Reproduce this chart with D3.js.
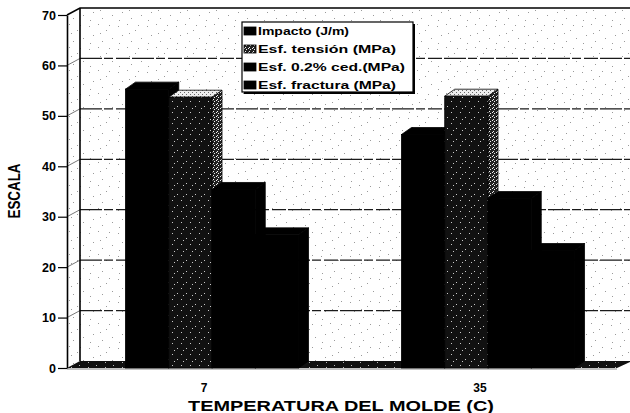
<!DOCTYPE html>
<html>
<head>
<meta charset="utf-8">
<script src="https://cdn.jsdelivr.net/npm/d3@7"></script>
<style>
  html, body { margin: 0; padding: 0; background: #fff; }
  svg { display: block; }
  text { font-family: "Liberation Sans", Arial, sans-serif; fill: #000; }
</style>
</head>
<body>
<svg id="chart" width="630" height="413"></svg>
<script>
// Data
const categories = ["7", "35"];
const seriesNames = ["Impacto (J/m)", "Esf. tensión (MPa)", "Esf. 0.2% ced.(MPa)", "Esf. fractura (MPa)"];
const impacto  = [55.3, 46.3];
const tension  = [53.7, 53.9];
const cedencia = [35.4, 33.6];
const fractura = [26.4, 23.3];
const yTicks = [0, 10, 20, 30, 40, 50, 60, 70];

const seriesValues = [impacto, tension, cedencia, fractura];
const seriesFill = ["solid", "speckle", "solid", "solid"];
// legend label widths
const legendTextWidth = [91, 138, 147, 138];

const svg = d3.select("#chart");

// 3D offsets: wall depth and bar depth
const wallDx = 13, wallDy = -7;
const barDx = 10, barDy = -7;

const y = d3.scaleLinear().domain([0, 70]).range([368, 15]);
const x0 = d3.scaleBand().domain(categories).range([74, 626])
  .paddingInner(0.373).paddingOuter(0.1865);
const x1 = d3.scaleBand().domain(seriesNames).range([0, x0.bandwidth()]);

const xLeft = 67;
const xRightFront = 617;
const xRightBack = 632;

// Patterns
const defs = svg.append("defs");

function dotPattern(id, w, h, bg, color, dots, size) {
  const p = defs.append("pattern").attr("id", id)
    .attr("patternUnits", "userSpaceOnUse").attr("width", w).attr("height", h);
  if (bg) p.append("rect").attr("width", w).attr("height", h).attr("fill", bg);
  dots.forEach(([dx, dy]) => p.append("rect")
    .attr("x", dx).attr("y", dy).attr("width", size).attr("height", size).attr("fill", color));
}
// faint grain on the walls
dotPattern("wallGrain", 29, 23, "#fff", "#9a9a9a",
  [[2,3],[11,1],[19,7],[25,15],[6,12],[15,18],[22,2],[3,20],[13,10]], 1);
// stippled fill of the tension bar
dotPattern("tensFront", 9, 11, "#111", "#c8c8c8",
  [[1,2],[6,7],[3,9]], 1);
dotPattern("tensSide", 4, 4, "#222", "#f2f2f2",
  [[0,0],[2,1],[1,3]], 1);
dotPattern("tensTop", 4, 4, "#eee", "#666",
  [[0,0],[2,2]], 1);
dotPattern("floorGrain", 17, 5, "#111", "#bbb", [[3,2],[11,0]], 1);

// Back wall
const wall = svg.append("g");
wall.append("rect")
  .attr("x", xLeft + wallDx).attr("y", y(70) + wallDy)
  .attr("width", 640 - (xLeft + wallDx)).attr("height", y(0) - y(70))
  .attr("fill", "url(#wallGrain)");
// Side wall
wall.append("polygon")
  .attr("points", [[xLeft, y(70)], [xLeft + wallDx, y(70) + wallDy],
                   [xLeft + wallDx, y(0) + wallDy], [xLeft, y(0)]].join(" "))
  .attr("fill", "url(#wallGrain)");

// Gridlines on back wall and side wall
const grid = svg.append("g");
yTicks.filter(v => v > 0 && v < 70).forEach(v => {
  grid.append("line")
    .attr("x1", xLeft + wallDx).attr("x2", 640)
    .attr("y1", y(v) + wallDy).attr("y2", y(v) + wallDy)
    .attr("stroke", "#1a1a1a").attr("stroke-width", 1.3)
    .attr("stroke-dasharray", "22,2,9,3,14,2");
  grid.append("line")
    .attr("x1", xLeft).attr("x2", xLeft + wallDx)
    .attr("y1", y(v)).attr("y2", y(v) + wallDy)
    .attr("stroke", "#555").attr("stroke-width", 0.8);
});
// top edge of the walls
grid.append("path")
  .attr("d", `M${xLeft},${y(70)} L${xLeft + wallDx},${y(70) + wallDy} L640,${y(70) + wallDy}`)
  .attr("fill", "none").attr("stroke", "#000").attr("stroke-width", 1.5);
// back corner of side wall
grid.append("line")
  .attr("x1", xLeft + wallDx).attr("x2", xLeft + wallDx)
  .attr("y1", y(70) + wallDy).attr("y2", y(0) + wallDy)
  .attr("stroke", "#000").attr("stroke-width", 1.6);

// Floor
svg.append("polygon")
  .attr("points", [[xLeft, y(0)], [xRightFront, y(0)],
                   [xRightBack, y(0) + wallDy], [xLeft + wallDx, y(0) + wallDy]].join(" "))
  .attr("fill", "url(#floorGrain)");
svg.append("line")
  .attr("x1", xLeft).attr("x2", xRightFront).attr("y1", y(0) + 1).attr("y2", y(0) + 1)
  .attr("stroke", "#888").attr("stroke-width", 1.2);

// Bars (drawn left to right so each front face covers its neighbour's side)
const bars = svg.append("g");
categories.forEach((cat, ci) => {
  seriesNames.forEach((name, si) => {
    const v = seriesValues[si][ci];
    const xa = x0(cat) + x1(name);
    const xb = xa + x1.bandwidth();
    const yt = y(v), yb = y(0);
    const speckle = seriesFill[si] === "speckle";
    const g = bars.append("g");
    // side face
    g.append("polygon")
      .attr("points", [[xb, yt], [xb + barDx, yt + barDy], [xb + barDx, yb + barDy], [xb, yb]].join(" "))
      .attr("fill", speckle ? "url(#tensSide)" : "#000")
      .attr("stroke", "#000").attr("stroke-width", 0.8);
    // top face
    g.append("polygon")
      .attr("points", [[xa, yt], [xa + barDx, yt + barDy], [xb + barDx, yt + barDy], [xb, yt]].join(" "))
      .attr("fill", speckle ? "url(#tensTop)" : "#000")
      .attr("stroke", "#000").attr("stroke-width", 0.8);
    // front face
    g.append("rect")
      .attr("x", xa).attr("y", yt).attr("width", xb - xa).attr("height", yb - yt)
      .attr("fill", speckle ? "url(#tensFront)" : "#000")
      .attr("stroke", "#000").attr("stroke-width", 0.8);
  });
});

// Y axis
const yAxis = svg.append("g")
  .attr("transform", `translate(${xLeft},0)`)
  .call(d3.axisLeft(y).tickValues(yTicks).tickSize(9).tickSizeOuter(0).tickPadding(2));
yAxis.select(".domain").attr("stroke", "#000").attr("stroke-width", 1.6);
yAxis.selectAll(".tick line").attr("stroke", "#000").attr("stroke-width", 1.2);
yAxis.selectAll(".tick text")
  .style("font-family", "'Liberation Sans', Arial, sans-serif")
  .style("font-weight", "bold").style("font-size", "12.5px").attr("fill", "#000");

// X axis category labels
const xAxis = svg.append("g")
  .attr("transform", `translate(-8,${y(0)})`)
  .call(d3.axisBottom(x0).tickSize(0).tickPadding(15));
xAxis.select(".domain").remove();
xAxis.selectAll(".tick text")
  .style("font-family", "'Liberation Sans', Arial, sans-serif")
  .style("font-weight", "bold").style("font-size", "12px").attr("fill", "#000");

// Axis titles
svg.append("text")
  .attr("x", 341).attr("y", 411)
  .attr("text-anchor", "middle")
  .attr("textLength", 306).attr("lengthAdjust", "spacingAndGlyphs")
  .style("font-weight", "bold").style("font-size", "15px")
  .text("TEMPERATURA DEL MOLDE (C)");

svg.append("text")
  .attr("transform", "translate(20,191) rotate(-90)")
  .attr("text-anchor", "middle")
  .attr("textLength", 55).attr("lengthAdjust", "spacingAndGlyphs")
  .style("font-family", "'Liberation Sans Narrow', 'Liberation Sans', Arial, sans-serif")
  .style("font-weight", "bold").style("font-size", "16px")
  .text("ESCALA");

// Legend
const legend = svg.append("g").attr("transform", "translate(242,22)");
const lw = 171, lh = 70;
legend.append("rect").attr("x", 2).attr("y", 2).attr("width", lw).attr("height", lh).attr("fill", "#000");
legend.append("rect").attr("width", lw).attr("height", lh)
  .attr("fill", "#fff").attr("stroke", "#000").attr("stroke-width", 1.2);
seriesNames.forEach((name, i) => {
  const row = legend.append("g").attr("transform", `translate(2,${4 + i * 18})`);
  row.append("rect").attr("x", 0).attr("y", 1).attr("width", 12).attr("height", 8)
    .attr("fill", seriesFill[i] === "speckle" ? "url(#tensSide)" : "#000")
    .attr("stroke", "#000").attr("stroke-width", 0.8);
  row.append("text").attr("x", 14).attr("y", 8.5)
    .attr("textLength", legendTextWidth[i]).attr("lengthAdjust", "spacingAndGlyphs")
    .style("font-weight", "bold").style("font-size", "11.5px")
    .text(name);
});
</script>
</body>
</html>
